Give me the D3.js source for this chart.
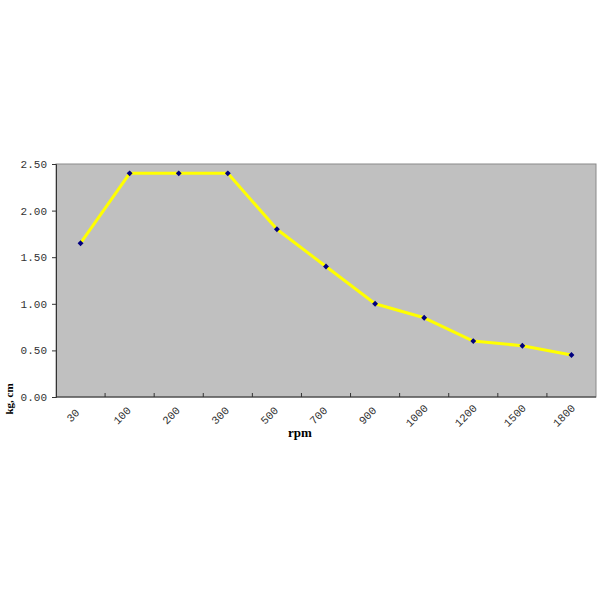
<!DOCTYPE html>
<html>
<head>
<meta charset="utf-8">
<script src="https://cdn.jsdelivr.net/npm/d3@7"></script>
<style>
  body { margin: 0; background: #fff; }
</style>
</head>
<body>
<div id="chart"></div>
<script>
// rpm categories and torque values (kg, cm)
const rpmLabels = ["30", "100", "200", "300", "500", "700", "900", "1000", "1200", "1500", "1800"];
const torqueValues = [1.65, 2.4, 2.4, 2.4, 1.8, 1.4, 1.0, 0.85, 0.6, 0.55, 0.45];
const yTicks = [0, 0.5, 1.0, 1.5, 2.0, 2.5];

const W = 600, H = 600;
const margin = { left: 56, top: 164, right: 4, bottom: 203 };
const pw = W - margin.left - margin.right,
    ph = H - margin.top - margin.bottom;

let svg = d3.select("#chart").append("svg")
    .attr("width", W).attr("height", H);

let g = svg.append("g")
    .attr("transform", "translate(" + margin.left + "," + margin.top + ")");

let x = d3.scaleBand().domain(rpmLabels).range([0, pw]);
let y = d3.scaleLinear().domain([0, 2.5]).range([ph, 0]);

// plot area
g.append("rect")
    .attr("width", pw).attr("height", ph)
    .attr("fill", "#c0c0c0")
    .attr("stroke", "#8a8a8a").attr("stroke-width", 1);

// y axis
let yAxis = g.append("g")
    .call(d3.axisLeft(y).tickValues(yTicks).tickSize(4).tickPadding(5)
        .tickFormat(d3.format(".2f")));
yAxis.select(".domain").attr("stroke", "#333");
yAxis.selectAll(".tick line").attr("stroke", "#333");
yAxis.selectAll("text")
    .attr("font-family", "Liberation Mono, DejaVu Sans Mono, monospace")
    .attr("font-size", 11).attr("fill", "#333");

// x axis: ticks at band boundaries
let xAxis = g.append("g").attr("transform", "translate(0," + ph + ")");
xAxis.append("line").attr("x1", 0).attr("x2", pw).attr("stroke", "#333");
xAxis.selectAll(".xt")
    .data(rpmLabels.slice(1))
    .enter().append("line")
    .attr("x1", d => x(d)).attr("x2", d => x(d))
    .attr("y1", 0).attr("y2", -4)
    .attr("stroke", "#333");
xAxis.selectAll(".xl")
    .data(rpmLabels)
    .enter().append("text")
    .attr("transform", d => "translate(" + (x(d) + x.bandwidth() / 2 - 7) + ",19) rotate(-45)")
    .attr("text-anchor", "middle")
    .attr("dominant-baseline", "middle")
    .attr("font-family", "Liberation Mono, DejaVu Sans Mono, monospace")
    .attr("font-size", 11).attr("fill", "#333")
    .text(d => d);

// line
let line = d3.line()
    .x((d, i) => x(rpmLabels[i]) + x.bandwidth() / 2)
    .y(d => y(d));
g.append("path")
    .datum(torqueValues)
    .attr("d", line)
    .attr("fill", "none")
    .attr("stroke", "#ffff00")
    .attr("stroke-width", 3)
    .attr("stroke-linejoin", "round");

// diamond markers
g.selectAll(".dot")
    .data(torqueValues)
    .enter().append("path")
    .attr("class", "dot")
    .attr("d", d3.symbol().type(d3.symbolDiamond2).size(22))
    .attr("transform", (d, i) => "translate(" + (x(rpmLabels[i]) + x.bandwidth() / 2) + "," + y(d) + ")")
    .attr("fill", "#000080");

// axis titles
svg.append("text")
    .attr("x", 300).attr("y", 437)
    .attr("text-anchor", "middle")
    .attr("font-family", "Liberation Serif, DejaVu Serif, serif")
    .attr("font-weight", "bold").attr("font-size", 13)
    .text("rpm");
svg.append("text")
    .attr("transform", "translate(13,399) rotate(-90)")
    .attr("text-anchor", "middle")
    .attr("font-family", "Liberation Serif, DejaVu Serif, serif")
    .attr("font-weight", "bold").attr("font-size", 11)
    .text("kg, cm");
</script>
</body>
</html>
